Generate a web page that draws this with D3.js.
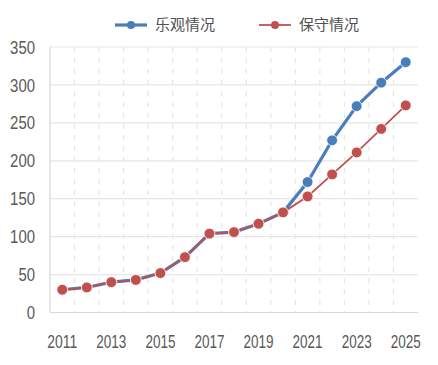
<!DOCTYPE html>
<html><head><meta charset="utf-8">
<script src="https://cdn.jsdelivr.net/npm/d3@7"></script>
<style>body{margin:0;background:#fff;}</style>
</head><body>
<svg id="c" width="438" height="365"></svg>
<script>
const years = [2011,2012,2013,2014,2015,2016,2017,2018,2019,2020,2021,2022,2023,2024,2025];
const optimistic = [30,33,40,43,52,73,104,106,117,132,172,227,272,303,330];
const conservative = [30,33,40,43,52,73,104,106,117,132,153,182,211,242,273];
const seriesNames = ["乐观情况","保守情况"];
const yTicks = [0,50,100,150,200,250,300,350];
const xTickLabels = [2011,2013,2015,2017,2019,2021,2023,2025];

const svg = d3.select("#c");
const L=50, R=418, T=47, B=312.5;
const x = d3.scaleBand().domain(years).range([L,R]);
const y = d3.scaleLinear().domain([0,350]).range([B,T]);
const font = "'Liberation Sans',Arial,sans-serif";
const txt = "#595959";

// horizontal grid
svg.append("g").selectAll("line").data(yTicks.filter(d=>d>0)).join("line")
  .attr("x1",L).attr("x2",R).attr("y1",d=>y(d)).attr("y2",d=>y(d))
  .attr("stroke","#e6e6e6").attr("stroke-width",1.2);
// vertical dashed grid at band boundaries
svg.append("g").selectAll("line").data(years.slice(1)).join("line")
  .attr("x1",d=>x(d)).attr("x2",d=>x(d)).attr("y1",T).attr("y2",B)
  .attr("stroke","#e6e6e6").attr("stroke-width",1.2).attr("stroke-dasharray","5,6");
// axes lines
svg.append("line").attr("x1",L).attr("x2",L).attr("y1",T).attr("y2",B).attr("stroke","#d9d9d9").attr("stroke-width",1.2);
svg.append("line").attr("x1",L).attr("x2",R).attr("y1",B).attr("y2",B).attr("stroke","#d9d9d9").attr("stroke-width",1.2);

// y axis labels
const ya = svg.append("g").attr("transform",`translate(${L-15},0)`).call(d3.axisLeft(y).tickValues(yTicks).tickSize(0).tickPadding(0));
ya.select(".domain").remove();
ya.selectAll("text").attr("font-family",font).attr("font-size",19).attr("fill",txt).attr("text-anchor","end")
  .attr("textLength",function(){return this.textContent.length*8.3;}).attr("lengthAdjust","spacingAndGlyphs");

// x axis labels
const xa = svg.append("g").attr("transform",`translate(0,${B})`).call(d3.axisBottom(x).tickValues(xTickLabels).tickSize(0).tickPadding(22));
xa.select(".domain").remove();
xa.selectAll("text").attr("font-family",font).attr("font-size",19).attr("fill",txt)
  .attr("textLength",30).attr("lengthAdjust","spacingAndGlyphs");

const cx = d=>x(d)+x.bandwidth()/2;
const line = d3.line().x((d,i)=>cx(years[i])).y(d=>y(d));
const blue="#4a7ebb", red="#c0504d";

svg.append("path").datum(optimistic).attr("d",line).attr("fill","none").attr("stroke",blue).attr("stroke-width",3.2);
svg.append("g").selectAll("circle").data(optimistic).join("circle")
  .attr("cx",(d,i)=>cx(years[i])).attr("cy",d=>y(d)).attr("r",5.4).attr("fill",blue).attr("stroke","#fff").attr("stroke-width",0.8);
svg.append("path").datum(conservative).attr("d",line).attr("fill","none").attr("stroke",red).attr("stroke-width",1.8);
svg.append("g").selectAll("circle").data(conservative).join("circle")
  .attr("cx",(d,i)=>cx(years[i])).attr("cy",d=>y(d)).attr("r",5.4).attr("fill",red).attr("stroke","#fff").attr("stroke-width",0.8);

// legend
const lg = svg.append("g");
const items = [{n:seriesNames[0],c:blue,w:3.2,x0:115},{n:seriesNames[1],c:red,w:1.8,x0:259}];
items.forEach(it=>{
  lg.append("line").attr("x1",it.x0).attr("x2",it.x0+32).attr("y1",25).attr("y2",25).attr("stroke",it.c).attr("stroke-width",it.w);
  lg.append("circle").attr("cx",it.x0+16).attr("cy",25).attr("r",4).attr("fill",it.c);
  lg.append("text").attr("x",it.x0+40).attr("y",25).attr("dy","0.36em").text(it.n)
    .attr("font-family","'Noto Sans CJK SC',sans-serif").attr("font-size",15).attr("fill","#505050");
});
</script>
</body></html>
